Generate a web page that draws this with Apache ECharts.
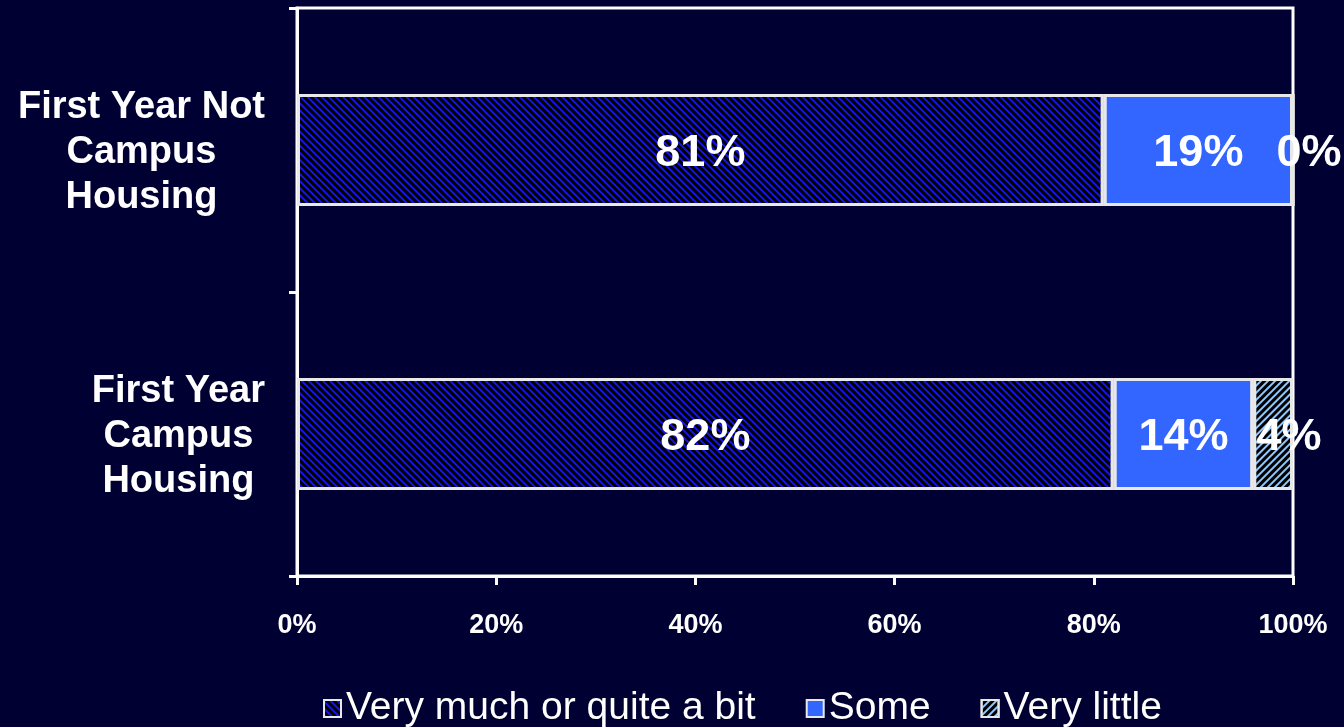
<!DOCTYPE html>
<html>
<head>
<meta charset="utf-8">
<script src="https://cdn.jsdelivr.net/npm/echarts@6/dist/echarts.min.js"></script>
<style>
  html, body { margin: 0; padding: 0; background: #000033; }
  #chart { width: 1344px; height: 727px; }
</style>
</head>
<body>
<div id="chart"></div>
<script>
const categories = ['First Year Campus Housing', 'First Year Not Campus Housing']
const categoryLines = [['First Year', 'Campus', 'Housing'], ['First Year Not', 'Campus', 'Housing']]
const seriesNames = ['Very much or quite a bit', 'Some', 'Very little']
const veryMuch = [82, 81]
const some = [14, 19]
const veryLittle = [4, 0]
const xTicks = [0, 20, 40, 60, 80, 100]

const font = '"Liberation Sans", Arial, sans-serif'

const chart = echarts.init(document.getElementById('chart'))

const labelStyle = {
    show: true,
    color: '#fff',
    fontSize: 45,
    fontWeight: 'bold',
    fontFamily: font,
    formatter: (p) => p.value + '%'
}

chart.setOption({
    backgroundColor: '#000033',
    animation: false,
    grid: {
        left: 297, right: 51, top: 8, bottom: 151,
        show: true, borderColor: '#fff', borderWidth: 3,
        backgroundColor: 'transparent'
    },
    legend: {
        left: 318, top: 684,
        itemWidth: 17, itemHeight: 17, itemGap: 50,
        icon: 'rect',
        textStyle: { color: '#fff', fontSize: 39, fontFamily: font },
        data: seriesNames
    },
    xAxis: {
        type: 'value', min: 0, max: 100, interval: 20,
        axisLine: { show: true, lineStyle: { color: '#fff', width: 3 } },
        axisTick: { show: true, length: 9, lineStyle: { color: '#fff', width: 3 } },
        splitLine: { show: false },
        axisLabel: {
            color: '#fff', fontSize: 27, fontWeight: 'bold', fontFamily: font, margin: 36,
            formatter: (v) => xTicks.includes(v) ? v + '%' : ''
        }
    },
    yAxis: {
        type: 'category', data: categories,
        axisLine: { show: true, lineStyle: { color: '#fff', width: 3 } },
        axisTick: { show: true, length: 8, lineStyle: { color: '#fff', width: 3 } },
        axisLabel: {
            color: '#fff', fontSize: 38, fontWeight: 'bold', fontFamily: font,
            align: 'right', margin: 32, lineHeight: 45,
            formatter: (v, i) => categoryLines[i].map(s => '{t|' + s + '}').join('\n'),
            rich: { t: { align: 'center', color: '#fff', fontSize: 38, fontWeight: 'bold', fontFamily: font, lineHeight: 45, padding: [6, 0, 0, 0] } }
        }
    },
    series: [
        {
            name: seriesNames[0], type: 'bar', stack: 'total', data: veryMuch, barWidth: 112,
            itemStyle: {
                color: '#000000', borderColor: '#e8e8e8', borderWidth: 3,
                decal: { symbol: 'rect', color: '#1414f0', dashArrayX: [1, 0], dashArrayY: [1.3, 2.2], rotation: Math.PI / 4 }
            },
            label: { ...labelStyle, position: 'inside', offset: [0, 4] }
        },
        {
            name: seriesNames[1], type: 'bar', stack: 'total', data: some, barWidth: 112,
            itemStyle: { color: '#3366ff', borderColor: '#e8e8e8', borderWidth: 3 },
            label: { ...labelStyle, position: 'inside', offset: [0, 4] }
        },
        {
            name: seriesNames[2], type: 'bar', stack: 'total', data: veryLittle, barWidth: 112,
            itemStyle: {
                color: '#000000', borderColor: '#e8e8e8', borderWidth: 3,
                decal: { symbol: 'rect', color: '#8ec8ff', dashArrayX: [1, 0], dashArrayY: [1.5, 2.5], rotation: -Math.PI / 4 }
            },
            label: { ...labelStyle, position: 'inside', offset: [16, 4] }
        }
    ]
})
</script>
</body>
</html>
